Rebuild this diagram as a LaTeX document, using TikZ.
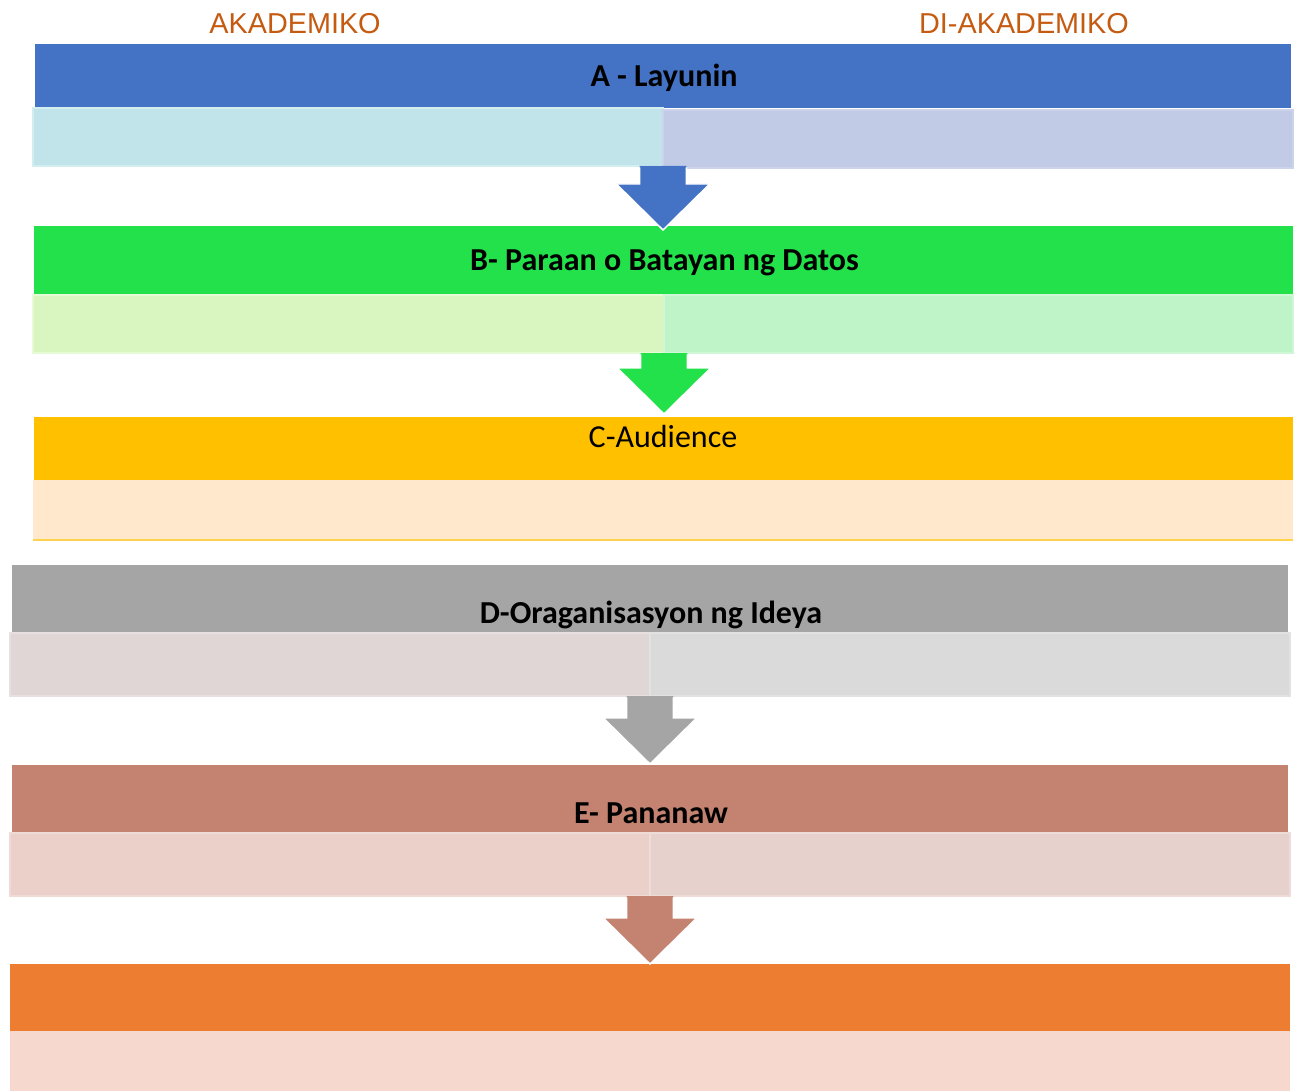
\documentclass[tikz,border=0pt]{standalone}
\usepackage{fontspec}
\setmainfont{Carlito}
\newfontfamily\arialf{Liberation Sans}
\usetikzlibrary{calc}
\definecolor{titleC}{HTML}{C55A11}
\definecolor{aHc}{HTML}{4472C4}
\definecolor{aLc}{HTML}{C0E4E9}
\definecolor{aLd}{HTML}{D3EEF1}
\definecolor{aRc}{HTML}{C2CBE5}
\definecolor{aRd}{HTML}{CCD3EB}
\definecolor{bHc}{HTML}{22E14A}
\definecolor{bLc}{HTML}{D9F6C0}
\definecolor{bLd}{HTML}{E6FAD6}
\definecolor{bRc}{HTML}{BEF4C8}
\definecolor{bRd}{HTML}{CFF7D6}
\definecolor{cHc}{HTML}{FFC000}
\definecolor{cSc}{HTML}{FFE8CC}
\definecolor{cSl}{HTML}{FFD34D}
\definecolor{dHc}{HTML}{A5A5A5}
\definecolor{dLc}{HTML}{E0D6D6}
\definecolor{dLd}{HTML}{E8E0E0}
\definecolor{dRc}{HTML}{DADADA}
\definecolor{dRd}{HTML}{E2E2E2}
\definecolor{eHc}{HTML}{C48270}
\definecolor{eLc}{HTML}{EBCFC9}
\definecolor{eLd}{HTML}{F0DAD5}
\definecolor{eRc}{HTML}{E7D1CC}
\definecolor{eRd}{HTML}{EEDCD8}
\definecolor{fHc}{HTML}{ED7D31}
\definecolor{fSc}{HTML}{F6D8CE}
\newcommand\blockarrow[3]{%
  \fill[#3] let \p1=(#1), \p2=(#2) in
    (\x1-17.5pt,\y1) -- (\x1-17.5pt,\y2+34.5pt) -- (\x1-35pt,\y2+34.5pt) -- (\x1,\y2)
    -- (\x1+35pt,\y2+34.5pt) -- (\x1+17.5pt,\y2+34.5pt) -- (\x1+17.5pt,\y1) -- cycle;
  \draw[white, line width=1.1pt, line join=miter] let \p1=(#1), \p2=(#2) in
    (\x1-17.5pt,\y1-1pt) -- (\x1-17.5pt,\y2+34.5pt) -- (\x1-35pt,\y2+34.5pt) -- (\x1,\y2)
    -- (\x1+35pt,\y2+34.5pt) -- (\x1+17.5pt,\y2+34.5pt) -- (\x1+17.5pt,\y1-1pt);}
\tikzset{
  rect/.style 2 args={rectangle, inner sep=0pt, outer sep=0pt,
    minimum width={#1*0.75pt}, minimum height={#2*0.75pt}},
  hdtext/.style={anchor=base, inner sep=0pt, font=\fontsize{24}{28}\selectfont\bfseries},
  hdplain/.style={anchor=base, inner sep=0pt, font=\fontsize{24}{28}\selectfont},
  ttext/.style={anchor=base, inner sep=0pt, text=titleC, font=\arialf\fontsize{21.6}{24}\selectfont},
  sub/.style={line width=1.1pt}
}
\begin{document}
\begin{tikzpicture}[x=0.75pt,y=-0.75pt]
\useasboundingbox (0,0) rectangle (1298,1091);
% titles
\node[ttext] (akad) at (295,34) {AKADEMIKO};
\node[ttext] (diak) at (1024,34) {DI-AKADEMIKO};
% block A
\node[rect={1256}{64}, fill=aHc] (aH) at (663,76) {};
\node[hdtext] (aT) at (664,87) {A - Layunin};
\node[rect={630}{58}, fill=aLc, draw=aLd, sub] (aL) at (348,137) {};
\node[rect={630}{58}, fill=aRc, draw=aRd, sub] (aR) at (978,139) {};
% block B
\node[rect={1259}{69}, fill=bHc] (bH) at (663.5,260.5) {};
\node[hdtext] (bT) at (664.5,271) {B- Paraan o Batayan ng Datos};
\node[rect={631}{58}, fill=bLc, draw=bLd, sub] (bL) at (348.5,324) {};
\node[rect={629}{58}, fill=bRc, draw=bRd, sub] (bR) at (978.5,324) {};
% block C
\node[rect={1259}{63}, fill=cHc] (cH) at (663.5,448.5) {};
\node[hdplain] (cT) at (663,447) {C-Audience};
\node[rect={1260}{60}, fill=cSc] (cS) at (663,510) {};
\draw[cSl, line width=1pt] (cS.south west) -- (cS.south east);
% block D
\node[rect={1276}{68}, fill=dHc] (dH) at (650,599) {};
\node[hdtext] (dT) at (651,623) {D-Oraganisasyon ng Ideya};
\node[rect={640}{63}, fill=dLc, draw=dLd, sub] (dL) at (330,664.5) {};
\node[rect={640}{63}, fill=dRc, draw=dRd, sub] (dR) at (970,664.5) {};
% block E
\node[rect={1276}{68}, fill=eHc] (eH) at (650,799) {};
\node[hdtext] (eT) at (651,823.5) {E- Pananaw};
\node[rect={640}{63}, fill=eLc, draw=eLd, sub] (eL) at (330,864.5) {};
\node[rect={640}{63}, fill=eRc, draw=eRd, sub] (eR) at (970,864.5) {};
% block F
\node[rect={1280}{67}, fill=fHc] (fH) at (650,997.5) {};
\node[rect={1280}{60}, fill=fSc] (fS) at (650,1061) {};
% arrows
\blockarrow{aL.south east}{$(bH.north)+(0,4)$}{aHc}
\blockarrow{bL.south east}{$(cH.north)+(0,-3)$}{bHc}
\blockarrow{dL.south east}{$(eH.north)+(0,-1)$}{dHc}
\blockarrow{eL.south east}{$(fH.north)+(0,0)$}{eHc}
\end{tikzpicture}
\end{document}
